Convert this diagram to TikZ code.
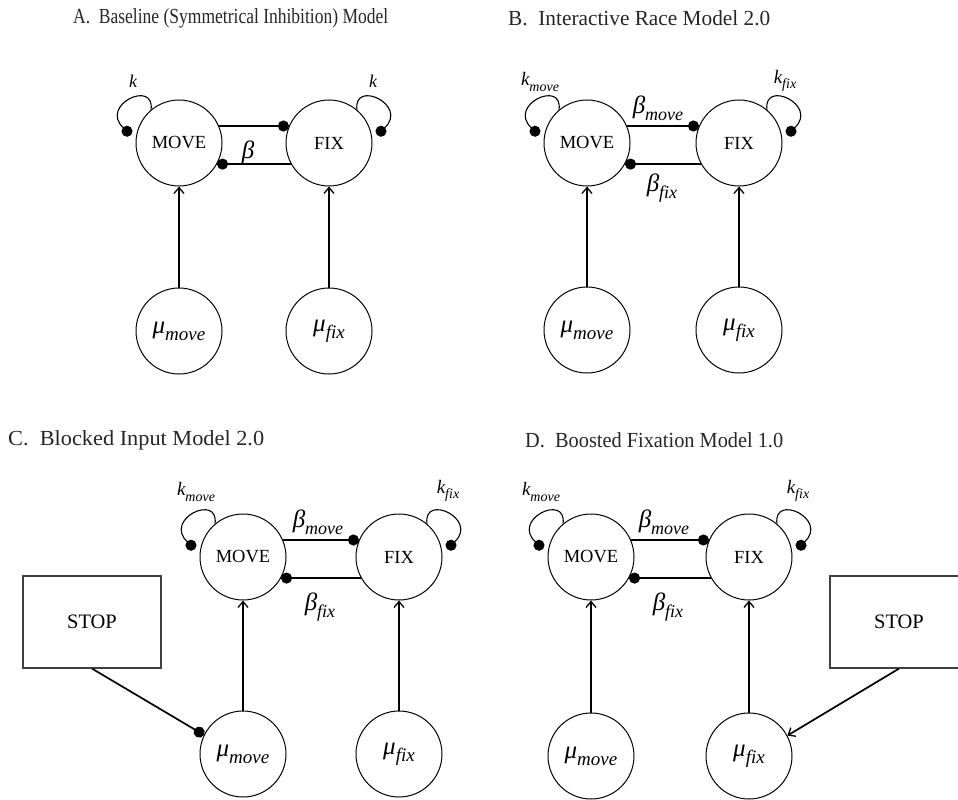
\documentclass[tikz,border=0pt]{standalone}
\usepackage{fontspec}
\setmainfont{Liberation Serif}
\usetikzlibrary{arrows.meta,calc}
\newcommand{\sym}[4]{{\fontsize{#1pt}{#1pt}\selectfont\itshape #2\raisebox{-0.28em}{\fontsize{#3pt}{#3pt}\selectfont #4}}}
\newcommand{\one}[2]{{\fontsize{#1pt}{#1pt}\selectfont\itshape #2}}
\newcommand{\ttltext}[2]{\resizebox{#1pt}{\height}{#2}}
\newcommand{\myloopleft}[1]{%
  \coordinate (#1k) at ($(#1)+(-48,-8)$);
  \draw[selfloop] (#1.130) .. controls ($(#1)+(-24,-64)$) and ($(#1)+(-80,-38)$) .. (#1k);}
\newcommand{\myloopright}[1]{%
  \coordinate (#1k) at ($(#1)+(48,-8)$);
  \draw[selfloop] (#1.50) .. controls ($(#1)+(24,-64)$) and ($(#1)+(80,-38)$) .. (#1k);}
\tikzset{
  unit/.style={circle,draw,line width=1pt,minimum size=86pt,inner sep=0pt,font=\fontsize{18.5pt}{18.5pt}\selectfont},
  inhib/.style={line width=1.9pt,-{Circle[length=11pt]}},
  inhibrev/.style={line width=1.9pt,{Circle[length=11pt]}-},
  excite/.style={line width=1.7pt,-{Straight Barb[length=6pt,width=10pt,line width=1.3pt]}},
  selfloop/.style={line width=1.1pt,-{Circle[length=11pt]}},
  stopbox/.style={draw=black!75,line width=1.2pt,minimum width=138pt,minimum height=92pt,inner sep=0pt,font=\fontsize{20.5pt}{20.5pt}\selectfont},
  ttl/.style={anchor=west,inner sep=0pt,font=\fontsize{21.5pt}{21.5pt}\selectfont,text=black!85},
  lbl/.style={inner sep=0pt},
}
\begin{document}
\begin{tikzpicture}[x=1pt,y=-1pt]
\useasboundingbox (0,0) rectangle (958,800);
% ---------- titles
\node[ttl] (tA) at (73,18) {\ttltext{315}{A.\hspace{0.5em}Baseline (Symmetrical Inhibition) Model}};
\node[ttl] (tB) at (508,18) {\ttltext{262}{B.\hspace{0.5em}Interactive Race Model 2.0}};
\node[ttl] (tC) at (8,440) {\ttltext{256}{C.\hspace{0.5em}Blocked Input Model 2.0}};
\node[ttl] (tD) at (525,440) {\ttltext{258}{D.\hspace{0.5em}Boosted Fixation Model 1.0}};
% ---------- panel A
\node[unit] (Am) at (179,143) {MOVE};
\node[unit] (Af) at (329,143) {FIX};
\node[unit] (Amu) at (179,331) {\sym{25}{μ}{19}{move}};
\node[unit] (Afu) at (329,331) {\sym{25}{μ}{19}{fix}};
\draw[inhib] (Am.23) -- (Af.157);
\draw[inhibrev] (Am.-29) -- (Af.-151);
\draw[excite] (Amu) -- (Am);
\draw[excite] (Afu) -- (Af);
\myloopleft{Am}
\myloopright{Af}
\node[lbl] (Akm) at (133,81) {\one{18}{k}};
\node[lbl] (Akf) at (373,81) {\one{18}{k}};
\node[lbl] (Ab) at (248,152) {\one{25}{β}};
% ---------- panel B
\node[unit] (Bm) at (587,143) {MOVE};
\node[unit] (Bf) at (739,143) {FIX};
\node[unit] (Bmu) at (587,330) {\sym{25}{μ}{19}{move}};
\node[unit] (Bfu) at (739,330) {\sym{25}{μ}{19}{fix}};
\draw[inhib] (Bm.23) -- (Bf.157);
\draw[inhibrev] (Bm.-29) -- (Bf.-151);
\draw[excite] (Bmu) -- (Bm);
\draw[excite] (Bfu) -- (Bf);
\myloopleft{Bm}
\myloopright{Bf}
\node[lbl] (Bkm) at (540,82) {\sym{19}{k}{14}{move}};
\node[lbl] (Bkf) at (785,81) {\sym{19}{k}{14}{fix}};
\node[lbl] (Bbm) at (658,108) {\sym{25}{β}{18}{move}};
\node[lbl] (Bbf) at (662,188) {\sym{25}{β}{18}{fix}};
% ---------- panel C
\node[unit] (Cm) at (243,557) {MOVE};
\node[unit] (Cf) at (399,557) {FIX};
\node[unit] (Cmu) at (243,754) {\sym{25}{μ}{19}{move}};
\node[unit] (Cfu) at (399,754) {\sym{25}{μ}{19}{fix}};
\draw[inhib] (Cm.23) -- (Cf.157);
\draw[inhibrev] (Cm.-29) -- (Cf.-151);
\draw[excite] (Cmu) -- (Cm);
\draw[excite] (Cfu) -- (Cf);
\myloopleft{Cm}
\myloopright{Cf}
\node[lbl] (Ckm) at (196,492) {\sym{19}{k}{14}{move}};
\node[lbl] (Ckf) at (448,491) {\sym{19}{k}{14}{fix}};
\node[lbl] (Cbm) at (318,522) {\sym{25}{β}{18}{move}};
\node[lbl] (Cbf) at (320,607) {\sym{25}{β}{18}{fix}};
\node[stopbox] (Cs) at (92,622) {STOP};
\draw[inhib,line width=1.7pt] (Cs.south) -- (Cmu.154);
% ---------- panel D
\node[unit] (Dm) at (591,557) {MOVE};
\node[unit] (Df) at (749,557) {FIX};
\node[unit] (Dmu) at (591,756) {\sym{25}{μ}{19}{move}};
\node[unit] (Dfu) at (749,756) {\sym{25}{μ}{19}{fix}};
\draw[inhib] (Dm.23) -- (Df.157);
\draw[inhibrev] (Dm.-29) -- (Df.-151);
\draw[excite] (Dmu) -- (Dm);
\draw[excite] (Dfu) -- (Df);
\myloopleft{Dm}
\myloopright{Df}
\node[lbl] (Dkm) at (541,492) {\sym{19}{k}{14}{move}};
\node[lbl] (Dkf) at (798,491) {\sym{19}{k}{14}{fix}};
\node[lbl] (Dbm) at (664,522) {\sym{25}{β}{18}{move}};
\node[lbl] (Dbf) at (668,607) {\sym{25}{β}{18}{fix}};
\node[stopbox] (Ds) at (899,622) {STOP};
\draw[excite] (Ds.south) -- (Dfu.28);
\end{tikzpicture}
\end{document}
